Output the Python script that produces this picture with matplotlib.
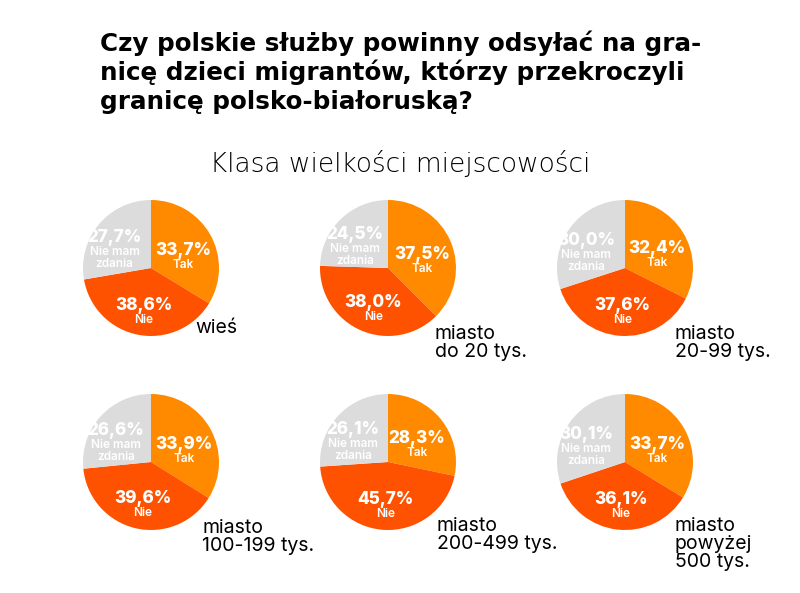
import matplotlib
matplotlib.use("Agg")
import matplotlib.pyplot as plt
import numpy as np

W, H = 800, 593
DPI = 100

title_lines = ["Czy polskie służby powinny odsyłać na gra-",
               "nicę dzieci migrantów, którzy przekroczyli",
               "granicę polsko-białoruską?"]
subtitle = "Klasa wielkości miejscowości"
categories = ["wieś", "miasto\ndo 20 tys.", "miasto\n20-99 tys.",
              "miasto\n100-199 tys.", "miasto\n200-499 tys.", "miasto\npowyżej\n500 tys."]
answers = [["Tak"], ["Nie"], ["Nie mam", "zdania"]]
tak = [33.7, 37.5, 32.4, 33.9, 28.3, 33.7]
nie = [38.6, 38.0, 37.6, 39.6, 45.7, 36.1]
nmz = [27.7, 24.5, 30.0, 26.6, 26.1, 30.1]

colors = ["#FF8A00", "#FF5200", "#DCDCDC"]
FONT = ["Inter", "DejaVu Sans"]
plt.rcParams['font.family'] = FONT

fig = plt.figure(figsize=(W / DPI, H / DPI), dpi=DPI)
fig.patch.set_facecolor("white")

def fx(x):
    return x / W

def fy(y):
    return 1 - y / H

# Title
baselines = [51, 80, 109]
for line, b in zip(title_lines, baselines):
    fig.text(fx(100), fy(b), line, fontsize=17.7, fontweight="bold",
             family=["DejaVu Sans"], color="black", ha="left", va="baseline")

fig.text(fx(400), fy(172), subtitle, fontsize=19, fontweight="light",
         family=["DejaVu Sans"], color="black", ha="center", va="baseline")

centers = [(151, 268), (388, 268), (625, 268), (151, 462), (388, 462), (625, 462)]
R = 68
label_offsets = [(44, 327), (47, 333), (50, 333), (51, 527), (49, 525), (50, 525)]

for i, (cx, cy) in enumerate(centers):
    ax = fig.add_axes([fx(cx - R), fy(cy + R), 2 * R / W, 2 * R / H])
    vals = [tak[i], nie[i], nmz[i]]
    wedges, _ = ax.pie(vals, colors=colors, startangle=90, counterclock=False,
                       radius=1.0, wedgeprops=dict(linewidth=0))
    ax.set_xlim(-1, 1)
    ax.set_ylim(-1, 1)
    ax.set_aspect("equal")
    ax.axis("off")
    total = sum(vals)
    start = 90.0
    for j, v in enumerate(vals):
        span = v / total * 360.0
        mid = np.deg2rad(start - span / 2)
        start -= span
        rr = 0.7 if j == 2 else 0.55
        px, py = rr * np.cos(mid), rr * np.sin(mid)
        pct = f"{v:.1f}%".replace(".", ",")
        base = py - 5.0 / R
        ax.text(px, base, pct, fontsize=12.3, fontweight="heavy", color="white",
                ha="center", va="baseline")
        for k, sub in enumerate(answers[j]):
            ax.text(px, base - (13.0 + 12.0 * k) / R, sub, fontsize=8.5,
                    fontweight="semibold", color="white", ha="center",
                    va="baseline")
    lx, ly = label_offsets[i]
    fig.text(fx(cx + lx), fy(ly - 8), categories[i], fontsize=14,
             color="black", ha="left", va="top", linespacing=1.0)

fig.savefig("out.png", dpi=DPI, facecolor="white")
